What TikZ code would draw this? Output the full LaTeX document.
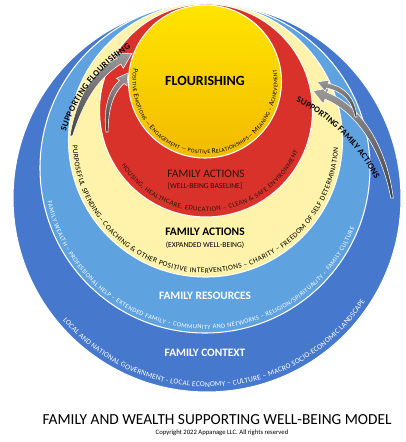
\documentclass[tikz,border=0pt]{standalone}
\usepackage{fontspec}
\setmainfont{Carlito}
\usetikzlibrary{decorations.text}
\definecolor{ctxblue}{HTML}{4678CD}
\definecolor{resblue}{HTML}{5FA2E0}
\definecolor{cream}{HTML}{FFF2AA}
\definecolor{basered}{HTML}{D8322A}
\definecolor{sunhi}{HTML}{FFE500}
\definecolor{sunlo}{HTML}{F3BA00}
\definecolor{redtext}{HTML}{2E1410}
\newcommand{\capbig}{\fontsize{5.4}{6}\selectfont}
\newcommand{\capsml}{\fontsize{4.2}{5}\selectfont}

\begin{document}
\begin{tikzpicture}[x=0.75pt,y=0.75pt,
 ring/.style={draw=white,line width=0.8pt},
 lbl/.style={align=center,inner sep=0pt},
 along/.style={decorate,decoration={text along path,text align={fit to path}}},
 supparrow/.style={draw=white,line width=0.4pt,top color=black!40,bottom color=black!75}]
\fill[white] (0,0) rectangle (406,-442);
\useasboundingbox (0,0) rectangle (406,-442);
% ring centres
\coordinate (cC) at (207,-198);
\coordinate (cR) at (205,-168);
\coordinate (cE) at (205.5,-140);
\coordinate (cB) at (206,-110.5);
\coordinate (cY) at (205,-81.5);
% nested discs
\draw[ring,fill=ctxblue] (cC) circle[radius=194];
\draw[ring,fill=resblue] (cR) circle[radius=165];
\draw[ring,fill=cream] (cE) circle[radius=137];
\draw[ring,fill=basered] (cB) circle[radius=106.5];
\draw[ring,top color=sunhi,bottom color=sunlo] (cY) circle[radius=76.5];
% texts round the inside of each disc
\path[along,decoration={text={|\capbig|P|\capsml|OSITIVE |\capbig|E|\capsml|MOTIONS — |\capbig|E|\capsml|NGAGEMENT — POSITIVE |\capbig|R|\capsml|ELATIONSHIPS— |\capbig|M|\capsml|EANING – |\capbig|A|\capsml|CHIEVEMENT}}]
 (cY) ++(170:72.5) arc[start angle=170,end angle=369.3,radius=72.5];
\path[along,decoration={text={|\fontsize{5.1}{6}\selectfont\color{redtext}|HOUSING, HEALTHCARE,  EDUCATION – CLEAN {\&} SAFE ENVIRONMENT}}]
 (cB) ++(213.3:101) arc[start angle=213.3,end angle=336,radius=101];
\path[along,decoration={text={|\fontsize{5.5}{6}\selectfont|PURPOSEFUL SPENDING– COACHING {\&} OTHER POSITIVE INTERVENTIONS – CHARITY – FREEDOM OF SELF DETERMINATION}}]
 (cE) ++(182.2:133) arc[start angle=182.2,end angle=356.6,radius=133];
\path[along,decoration={text={|\fontsize{4.8}{6}\selectfont\color{white}|FAMILY WEALTH – PROFESSIONAL HELP – EXTENDED FAMILY – COMMUNITY AND NETWORKS – RELIGION/SPIRITUALITY – FAMILY CULTURE}}]
 (cR) ++(192:161) arc[start angle=192,end angle=338,radius=161];
\path[along,decoration={text={|\fontsize{5.6}{6}\selectfont\color{white}|LOCAL AND NATIONAL GOVERNMENT - LOCAL ECONOMY – CULTURE – MACRO SOCIO-ECONOMIC LANDSCAPE}}]
 (cC) ++(220.3:189) arc[start angle=220.3,end angle=326.8,radius=189];
% curved support arrows
\path[supparrow] (70,-136) .. controls (76,-99) and (92,-71) .. (117.2,-58) -- (114.7,-53.7) -- (132,-53.4)
 -- (123.3,-68.3) -- (120.8,-64) .. controls (97,-79) and (83,-103) .. (72.5,-136) -- cycle;
\path[supparrow] (106,-132) .. controls (103,-108) and (109,-90) .. (119.4,-80.4) -- (116.4,-78.3) -- (128,-73)
 -- (127,-85.7) -- (124,-83.6) .. controls (113,-93) and (108,-110) .. (108.2,-132) -- cycle;
\path[supparrow] (393.3,-198) .. controls (387,-148) and (362,-106) .. (327.4,-92.5) -- (329.1,-87.8) -- (313,-91)
 -- (323.3,-103.8) -- (325,-99.1) .. controls (358,-113) and (382,-152) .. (390.8,-198) -- cycle;
\path[supparrow] (357,-117) .. controls (355,-98) and (346,-87) .. (328.1,-83.4) -- (329.3,-80.1) -- (317,-82)
 -- (325.3,-91.3) -- (326.5,-88) .. controls (344,-92) and (352,-102) .. (355,-117) -- cycle;
\path[along,decoration={text={|\bfseries\fontsize{6.5}{7}\selectfont|SUPPORTING FLOURISHING}}]
 (66,-132) .. controls (75,-100) and (100,-66) .. (131,-48);
\path[along,decoration={text={|\bfseries\fontsize{6.5}{7}\selectfont|SUPPORTING FAMILY ACTIONS}}]
 (296,-102) .. controls (318,-110) and (355,-140) .. (375,-179);
% ring labels
\node[lbl,font=\bfseries\fontsize{10.5}{12}\selectfont] (flour) at (205,-81) {FLOURISHING};
\node[lbl,text=redtext,font=\fontsize{8.6}{10}\selectfont] (base) at (206,-174) {FAMILY ACTIONS};
\node[lbl,text=redtext,font=\fontsize{5.7}{7}\selectfont] (basesub) at (205,-186) {[WELL-BEING BASELINE]};
\node[lbl,font=\bfseries\fontsize{8.6}{10}\selectfont] (expand) at (205,-232) {FAMILY ACTIONS};
\node[lbl,font=\fontsize{5.7}{7}\selectfont] (expandsub) at (205,-245) {(EXPANDED WELL-BEING)};
\node[lbl,text=white,font=\bfseries\fontsize{8.5}{10}\selectfont] (res) at (205,-296) {FAMILY RESOURCES};
\node[lbl,text=white,font=\bfseries\fontsize{8.5}{10}\selectfont] (ctx) at (205,-353) {FAMILY CONTEXT};
% title
\node[lbl,font=\fontsize{11.5}{13}\selectfont] (title) at (217,-420) {FAMILY AND WEALTH SUPPORTING WELL-BEING MODEL};
\node[lbl,font=\fontsize{5}{6}\selectfont] (copy) at (222,-433) {Copyright 2022 Appanage LLC. All rights reserved};
\end{tikzpicture}
\end{document}
